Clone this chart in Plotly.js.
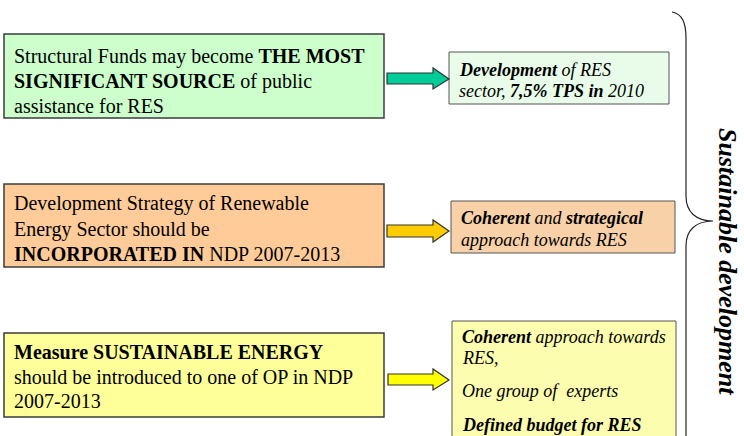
<!DOCTYPE html>
<html>
<head>
<meta charset="utf-8">
<script src="https://cdn.plot.ly/plotly-3.0.1.min.js"></script>
<style>
html,body{margin:0;padding:0;background:#fff;}
#chart{width:744px;height:436px;}
svg text, svg tspan { font-family: "Liberation Serif", "Times New Roman", serif !important; }
</style>
</head>
<body>
<div id="chart"></div>
<script>
// ---- content (text only) ----
const causeLines = [
  ["Structural Funds may become <b>THE MOST</b>", "<b>SIGNIFICANT SOURCE</b> of public", "assistance for RES"],
  ["Development Strategy of Renewable", "Energy Sector should be", "<b>INCORPORATED IN</b> NDP 2007-2013"],
  ["<b>Measure SUSTAINABLE ENERGY</b>", "should be introduced to one of OP in NDP", "2007-2013"]
];
const effectLines = [
  ["<b>Development</b> of RES", "sector, <b>7,5% TPS in</b> 2010"],
  ["<b>Coherent</b> and <b>strategical</b>", "approach towards RES"],
  ["<b>Coherent</b> approach towards", "RES,", "One group of  experts", "<b>Defined budget for RES</b>"]
];
const braceLabel = "Sustainable development";

// ---- layout / style ----
const causeFill = ["#ccffcc", "#ffcc99", "#ffff99"];
const effectFill = ["#e9fce9", "#f8d1a8", "#fdfdb0"];
const arrowFill = ["#00cc99", "#ffcc00", "#ffff00"];
const causeBox = [[4, 34, 384, 118], [4, 184, 384, 267], [4, 333, 384, 417]];
const causeLineY = [[56, 81, 106], [203, 229, 254], [352, 377, 401]];
const effectBox = [[449, 52, 669, 104], [451, 201, 675, 253], [452, 321, 676, 440]];
const effectLineY = [[70, 91], [218, 240], [337, 358, 391, 425]];
const arrowGeo = [[387, 433, 449, 73, 84, 68, 89, 79], [387, 433, 449, 225, 237, 220, 242, 231], [388, 433, 449, 374, 385, 369, 390, 380]];

const shapes = [];
const annotations = [];
const fontFam = "Liberation Serif";

causeBox.forEach((b, i) => {
  shapes.push({type: "rect", xref: "x", yref: "y", x0: b[0], y0: b[1], x1: b[2], y1: b[3],
    fillcolor: causeFill[i], line: {color: "#3c3c3c", width: 1.5}, layer: "below"});
  causeLines[i].forEach((t, j) => {
    annotations.push({xref: "x", yref: "y", x: b[0] + 8, y: causeLineY[i][j], text: t,
      showarrow: false, xanchor: "left", yanchor: "middle",
      font: {family: fontFam, size: 20, color: "#000000"}});
  });
});

effectBox.forEach((b, i) => {
  shapes.push({type: "rect", xref: "x", yref: "y", x0: b[0], y0: b[1], x1: b[2], y1: b[3],
    fillcolor: effectFill[i], line: {color: "#555", width: 1}, layer: "below"});
  effectLines[i].forEach((t, j) => {
    annotations.push({xref: "x", yref: "y", x: b[0] + 8, y: effectLineY[i][j], text: "<i>" + t + "</i>",
      showarrow: false, xanchor: "left", yanchor: "middle",
      font: {family: fontFam, size: 18, color: "#000000"}});
  });
});

arrowGeo.forEach((a, i) => {
  const [xs, xh, xt, s0, s1, h0, h1, yc] = a;
  shapes.push({type: "path", xref: "x", yref: "y",
    path: `M ${xs},${s0} L ${xh},${s0} L ${xh},${h0} L ${xt},${yc} L ${xh},${h1} L ${xh},${s1} L ${xs},${s1} Z`,
    fillcolor: arrowFill[i], line: {color: "#333", width: 1.2}});
});

// brace
shapes.push({type: "path", xref: "x", yref: "y",
  path: "M 672,12 C 682,14 686,22 686,38 L 686,196 C 686,212 696,221 713,221 C 696,221 686,230 686,246 L 686,440",
  line: {color: "#222", width: 1.2}});

annotations.push({xref: "x", yref: "y", x: 728, y: 261, text: "<b><i>" + braceLabel + "</i></b>",
  textangle: 90, showarrow: false, xanchor: "center", yanchor: "middle",
  font: {family: fontFam, size: 26, color: "#000000"}});

const layout = {
  width: 744, height: 436,
  margin: {l: 0, r: 0, t: 0, b: 0},
  paper_bgcolor: "#fff", plot_bgcolor: "#fff",
  font: {family: fontFam},
  xaxis: {range: [0, 744], visible: false},
  yaxis: {range: [436, 0], visible: false},
  showlegend: false,
  shapes: shapes,
  annotations: annotations
};

Plotly.newPlot("chart", [], layout, {staticPlot: true});
</script>
</body>
</html>
